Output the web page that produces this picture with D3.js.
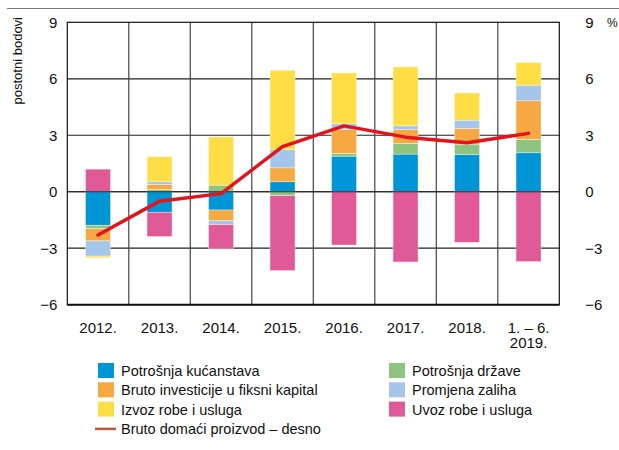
<!DOCTYPE html>
<html>
<head>
<meta charset="utf-8">
<script src="https://cdn.jsdelivr.net/npm/d3@7"></script>
<style>
  body { margin: 0; background: #fff; }
  text { font-family: "Liberation Sans Narrow", "Liberation Sans", Arial, sans-serif; fill: #111; }
</style>
</head>
<body>
<div class="chart"></div>
<script>
// categories and contributions (postotni bodovi)
var categories = ["2012.", "2013.", "2014.", "2015.", "2016.", "2017.", "2018.", "1. – 6.\n2019."];
var households = [-1.78, -1.09, -0.97, 0.53, 1.89, 2.00, 1.98, 2.07];
var government = [-0.18, 0.12, 0.35, -0.21, 0.14, 0.57, 0.55, 0.71];
var investment = [-0.65, 0.27, -0.57, 0.74, 1.29, 0.74, 0.83, 2.05];
var inventories = [-0.81, 0.14, -0.21, 0.97, 0.30, 0.19, 0.44, 0.83];
var exports = [-0.09, 1.33, 2.56, 4.21, 2.69, 3.13, 1.45, 1.20];
var imports = [1.20, -1.29, -1.29, -3.98, -2.83, -3.73, -2.69, -3.71];
var gdp = [-2.3, -0.5, -0.1, 2.4, 3.5, 2.9, 2.6, 3.1];
var yTicks = [9, 6, 3, 0, -3, -6];

var seriesNames = ["Potrošnja kućanstava", "Potrošnja države", "Bruto investicije u fiksni kapital",
                   "Promjena zaliha", "Izvoz robe i usluga", "Uvoz robe i usluga"];
var seriesValues = [households, government, investment, inventories, exports, imports];
var colors = ["#0096d6", "#8dc47f", "#f6a843", "#a6c6e9", "#ffdd45", "#df5a97"];

var width = 619, height = 450;
var margin = {top: 22.3, right: 59.7, bottom: 145.3, left: 67.3};
var w = width - margin.left - margin.right,
    h = height - margin.top - margin.bottom;

var svg = d3.select(".chart").append("svg")
    .attr("width", width)
    .attr("height", height);

// top rule
svg.append("line")
    .attr("x1", 7).attr("x2", 619)
    .attr("y1", 8.5).attr("y2", 8.5)
    .style("stroke", "#777")
    .style("stroke-width", 1);

var g = svg.append("g")
    .attr("transform", "translate(" + margin.left + "," + margin.top + ")");

var x = d3.scaleBand()
    .domain(categories)
    .range([0, w]);

var y = d3.scaleLinear()
    .domain([-6, 9])
    .range([h, 0]);

var barW = 25;

// build table for stacking
var table = categories.map(function(c, i) {
    var row = {cat: c};
    seriesNames.forEach(function(s, j) { row[s] = seriesValues[j][i]; });
    return row;
});

var stack = d3.stack()
    .keys(seriesNames)
    .offset(d3.stackOffsetDiverging);

var layers = stack(table);

// horizontal grid
g.selectAll(".hgrid")
    .data(yTicks.filter(function(d) { return d != -6 && d != 9; }))
    .enter().append("line")
    .attr("class", "hgrid")
    .attr("x1", 0).attr("x2", w)
    .attr("y1", function(d) { return y(d); })
    .attr("y2", function(d) { return y(d); })
    .style("stroke", "#222")
    .style("stroke-width", 1.2);

// vertical separators
g.selectAll(".vgrid")
    .data(categories.slice(1))
    .enter().append("line")
    .attr("class", "vgrid")
    .attr("x1", function(d) { return x(d); })
    .attr("x2", function(d) { return x(d); })
    .attr("y1", 0).attr("y2", h)
    .style("stroke", "#444")
    .style("stroke-width", 1.2);

// bars
g.selectAll(".layer")
    .data(layers)
    .enter().append("g")
    .attr("class", "layer")
    .style("fill", function(d, i) { return colors[i]; })
    .selectAll("rect")
    .data(function(d) { return d; })
    .enter().append("rect")
    .attr("x", function(d) { return x(d.data.cat) + x.bandwidth() / 2 - barW / 2; })
    .attr("width", barW)
    .attr("y", function(d) { return y(Math.max(d[0], d[1])); })
    .attr("height", function(d) { return Math.abs(y(d[0]) - y(d[1])); })
    .style("stroke", "rgba(255,255,255,0.6)")
    .style("stroke-width", 0.6);

// zero line over bars
g.append("line")
    .attr("x1", 0).attr("x2", w)
    .attr("y1", y(0)).attr("y2", y(0))
    .style("stroke", "#222")
    .style("stroke-width", 1.2);

// frame
g.append("rect")
    .attr("width", w)
    .attr("height", h)
    .style("fill", "none")
    .style("stroke", "#111")
    .style("stroke-width", 1.2);
g.append("line")
    .attr("x1", 0).attr("x2", w)
    .attr("y1", h).attr("y2", h)
    .style("stroke", "#111")
    .style("stroke-width", 2);

// gdp line
var line = d3.line()
    .x(function(d, i) { return x(categories[i]) + x.bandwidth() / 2; })
    .y(function(d) { return y(d); });

g.append("path")
    .datum(gdp)
    .attr("d", line)
    .style("fill", "none")
    .style("stroke", "#e3141c")
    .style("stroke-width", 3.5)
    .style("stroke-linejoin", "round")
    .style("stroke-linecap", "round");

function fmt(d) { return d < 0 ? "\u2212" + Math.abs(d) : String(d); }

// left ticks
g.selectAll(".ltick")
    .data(yTicks)
    .enter().append("text")
    .attr("x", -10)
    .attr("y", function(d) { return y(d); })
    .attr("dy", ".36em")
    .attr("text-anchor", "end")
    .style("font-size", "15px")
    .text(fmt);

// right ticks
g.selectAll(".rtick")
    .data(yTicks)
    .enter().append("text")
    .attr("x", w + 26)
    .attr("y", function(d) { return y(d); })
    .attr("dy", ".36em")
    .attr("text-anchor", "start")
    .style("font-size", "15px")
    .text(fmt);

svg.append("text")
    .attr("x", 607)
    .attr("y", y(9) + margin.top)
    .attr("dy", ".36em")
    .style("font-size", "12px")
    .text("%");

svg.append("text")
    .attr("transform", "translate(22,17) rotate(-90)")
    .attr("text-anchor", "end")
    .style("font-size", "13px")
    .text("postotni bodovi");

// x labels
var xl = g.selectAll(".xlab")
    .data(categories)
    .enter().append("text")
    .attr("class", "xlab")
    .attr("text-anchor", "middle")
    .attr("transform", function(d) { return "translate(" + (x(d) + x.bandwidth() / 2) + "," + (h + 28) + ")"; })
    .style("font-size", "15px");

xl.selectAll("tspan")
    .data(function(d) { return d.split("\n"); })
    .enter().append("tspan")
    .attr("x", 0)
    .attr("dy", function(d, i) { return i == 0 ? 0 : "1.05em"; })
    .text(function(d) { return d; });

// legend
var legendItems = [
    {name: seriesNames[0], color: colors[0], col: 0, row: 0},
    {name: seriesNames[2], color: colors[2], col: 0, row: 1},
    {name: seriesNames[4], color: colors[4], col: 0, row: 2},
    {name: seriesNames[1], color: colors[1], col: 1, row: 0},
    {name: seriesNames[3], color: colors[3], col: 1, row: 1},
    {name: seriesNames[5], color: colors[5], col: 1, row: 2}
];
var colX = [98, 389], rowY0 = 371, rowH = 19.3;

var leg = svg.append("g").attr("class", "legend");

var li = leg.selectAll(".li")
    .data(legendItems)
    .enter().append("g")
    .attr("transform", function(d) { return "translate(" + colX[d.col] + "," + (rowY0 + d.row * rowH) + ")"; });

li.append("rect")
    .attr("x", 0).attr("y", -8)
    .attr("width", 16).attr("height", 15)
    .style("fill", function(d) { return d.color; });

li.append("text")
    .attr("x", 23)
    .attr("dy", ".35em")
    .style("font-size", "14.5px")
    .text(function(d) { return d.name; });

var lineLeg = leg.append("g")
    .attr("transform", "translate(" + colX[0] + "," + (rowY0 + 3 * rowH) + ")");
lineLeg.append("line")
    .attr("x1", -3).attr("x2", 18)
    .style("stroke", "#c4563f")
    .style("stroke-width", 2.5);
lineLeg.append("text")
    .attr("x", 23)
    .attr("dy", ".35em")
    .style("font-size", "14.5px")
    .text("Bruto domaći proizvod – desno");
</script>
</body>
</html>
